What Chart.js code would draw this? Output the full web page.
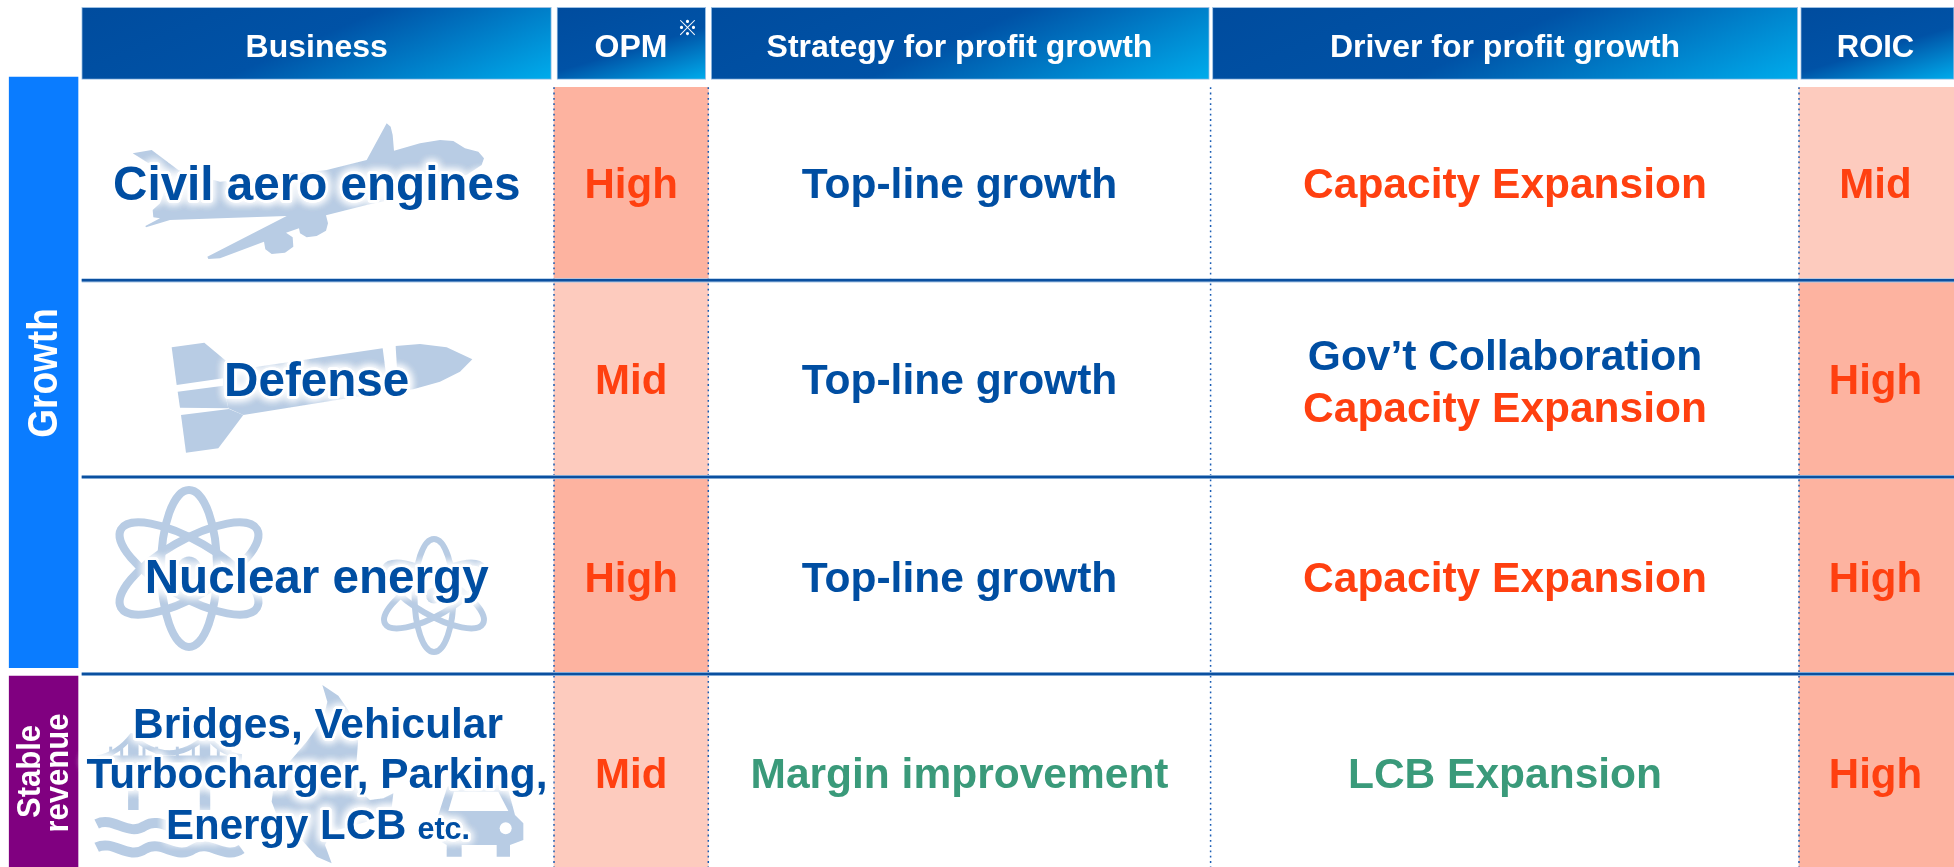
<!DOCTYPE html>
<html>
<head>
<meta charset="utf-8">
<title>Business portfolio</title>
<style>
  html, body { margin: 0; padding: 0; background: #fff; overflow: hidden; }
  canvas { display: block; }
</style>
<script src="https://cdn.jsdelivr.net/npm/chart.js@4"></script>
</head>
<body>
<canvas id="chart" width="1954" height="867"></canvas>
<script>
// table content
const columns    = ['Business', 'OPM', 'Strategy for profit growth', 'Driver for profit growth', 'ROIC'];
const businesses = [['Civil aero engines'], ['Defense'], ['Nuclear energy'], ['Bridges, Vehicular', 'Turbocharger, Parking,', 'Energy LCB']];
const opmLevels  = ['High', 'Mid', 'High', 'Mid'];
const roicLevels = ['Mid', 'High', 'High', 'High'];
const strategies = ['Top-line growth', 'Top-line growth', 'Top-line growth', 'Margin improvement'];
const drivers    = [['Capacity Expansion'], ['Gov’t Collaboration', 'Capacity Expansion'], ['Capacity Expansion'], ['LCB Expansion']];
const groups     = [['Growth'], ['Stable', 'revenue']];

// layout, in scale units (the scales are 1954 x 867)
const headerEdges = [[81.7, 551.4], [557, 705.7], [711.2, 1209.3], [1212.4, 1797.7], [1800.7, 1954]];
const headerTop = 7.3, headerBottom = 79.3;
const rowEdges = [87.3, 280.3, 477, 674, 867];
const cellEdges = { opm: [554, 708.3], roic: [1799, 1954] };
const dottedAt = [554, 708.3, 1210.6, 1799];
const groupEdges = [[77, 667.7], [676, 867]];
const groupX = [9.2, 78];

const NAVY = '#004EA2', RED = '#FF4010', GREEN = '#3A9A7A', ICON = '#B8CCE4';
const levelFill = { High: '#FDB3A0', Mid: '#FDCBBE' };

const mid = (e) => (e[0] + e[1]) / 2;
const rowRanges = rowEdges.slice(0, -1).map((t, i) => [t, rowEdges[i + 1]]);

// header gradient, iso lines run along (dx, -dy)
function headerGradient(context, i) {
  const chart = context.chart, sx = chart.scales.x, sy = chart.scales.y;
  const l = sx.getPixelForValue(headerEdges[i][0]), r = sx.getPixelForValue(headerEdges[i][1]);
  const t = sy.getPixelForValue(headerTop), b = sy.getPixelForValue(headerBottom);
  const W = r - l, H = b - t;
  const wide = W > 300;
  const dx = wide ? 165 : 120, dy = wide ? H : 36;
  const k = (W * dy + H * dx) / (dy * dy + dx * dx);
  const g = chart.ctx.createLinearGradient(l, t, l + k * dy, t + k * dx);
  g.addColorStop(0, '#004C9E');
  g.addColorStop(wide ? 0.48 : 0.55, '#0052A6');
  g.addColorStop(1, '#00ACEC');
  return g;
}

const datasets = [];

// header boxes
headerEdges.forEach((e, i) => {
  datasets.push({
    label: columns[i], order: 5, grouped: false,
    data: [{ x: mid(e), y: [headerTop, headerBottom] }],
    barThickness: e[1] - e[0],
    backgroundColor: (c) => c.chart.chartArea ? headerGradient(c, i) : NAVY,
    borderColor: '#9CC0E4', borderWidth: 1, borderSkipped: false
  });
});

// OPM and ROIC columns
datasets.push({
  label: 'OPM', order: 5, grouped: false,
  data: opmLevels.map((v, i) => ({ x: mid(cellEdges.opm), y: rowRanges[i] })),
  barThickness: cellEdges.opm[1] - cellEdges.opm[0],
  backgroundColor: opmLevels.map((v) => levelFill[v])
});
datasets.push({
  label: 'ROIC', order: 5, grouped: false,
  data: roicLevels.map((v, i) => ({ x: mid(cellEdges.roic), y: rowRanges[i] })),
  barThickness: cellEdges.roic[1] - cellEdges.roic[0],
  backgroundColor: roicLevels.map((v) => levelFill[v])
});

// side labels
datasets.push({
  label: 'Group', order: 5, grouped: false,
  data: groupEdges.map((e) => ({ x: mid(groupX), y: e })),
  barThickness: groupX[1] - groupX[0],
  backgroundColor: ['#0A7CFF', '#800080']
});

// dotted column separators
dottedAt.forEach((x) => {
  datasets.push({
    type: 'line', order: 2, pointRadius: 0, borderColor: '#1A5DB4', borderWidth: 1.5,
    borderDash: [1.8, 3.5], data: [{ x, y: rowEdges[0] }, { x, y: 867 }]
  });
});

// row rules
rowEdges.slice(1, -1).forEach((y) => {
  datasets.push({
    type: 'line', order: 1, pointRadius: 0, borderColor: '#0B50A0', borderWidth: 2.6,
    data: [{ x: 81.7, y }, { x: 1954, y }]
  });
  datasets.push({
    type: 'line', order: 1.5, pointRadius: 0, borderColor: '#A9C6E6', borderWidth: 4.2,
    data: [{ x: 81.7, y }, { x: 1954, y }]
  });
});

const planeOutline = [[800,40],[812,50],[818,75],[822,122],[900,100],[960,90],[1000,93],[1035,115],[1075,125],[1092,145],[1085,165],[1040,195],[900,250],[740,285],[618,316],[624,340],[618,362],[590,378],[560,382],[540,370],[537,355],[498,368],[518,382],[520,410],[495,428],[455,432],[436,418],[432,395],[300,445],[265,447],[262,440],[500,318],[300,325],[150,330],[78,352],[76,348],[120,325],[100,322],[98,300],[120,280],[150,200],[38,130],[95,120],[175,180],[300,215],[620,180],[740,150]];
const missileParts = [
  [[35,82],[133,68],[195,120],[190,175],[50,195]],
  [[53,215],[190,197],[205,265],[60,263]],
  [[63,285],[207,267],[250,285],[175,385],[78,398]],
  [[195,120],[225,150],[668,85],[685,215],[250,285],[205,265],[190,197],[190,175]],
  [[707,78],[780,72],[860,82],[937,118],[900,155],[840,185],[760,208],[715,215]]
];
const atoms = [
  { x: 189, y: 568.5, ry: 78.5, rx: 28, w: 8, dot: 12 },
  { x: 434, y: 595.5, ry: 56.5, rx: 19.5, w: 6, dot: 8 }
];
const flameOutline = [[697,30],[745,62],[785,120],[805,190],[800,255],[790,300],[800,340],[840,375],[880,370],[910,355],[905,400],[830,440],[725,470],[705,510],[725,565],[680,545],[640,500],[600,450],[560,420],[545,380],[550,340],[590,270],[650,200],[700,130],[712,80]];
const carOutline = [[1040,430],[1045,420],[1072,335],[1085,330],[1235,330],[1255,345],[1275,420],[1300,445],[1300,495],[1260,510],[1260,545],[1220,545],[1220,510],[1115,510],[1115,545],[1070,545],[1070,510],[1045,495]];
const carWindow = [[1092,350],[1225,350],[1255,408],[1075,408]];
const bridgeTowers = [130, 345];
const bridgeHangers = [62, 95, 162, 200, 262, 310, 385, 420];

function polygon(ctx, sx, sy, points, ox, oy) {
  ctx.beginPath();
  points.forEach((p, i) => {
    const x = sx.getPixelForValue(ox + p[0] / 3), y = sy.getPixelForValue(oy + p[1] / 3);
    if (i === 0) ctx.moveTo(x, y); else ctx.lineTo(x, y);
  });
  ctx.closePath();
  ctx.fill();
}

function drawPictures(chart) {
  const ctx = chart.ctx, sx = chart.scales.x, sy = chart.scales.y;
  ctx.save();
  ctx.fillStyle = ICON;
  ctx.strokeStyle = ICON;
  ctx.lineJoin = 'round';

  polygon(ctx, sx, sy, planeOutline, 120, 110);
  missileParts.forEach((p) => polygon(ctx, sx, sy, p, 160, 320));

  atoms.forEach((a) => {
    const cx = sx.getPixelForValue(a.x), cy = sy.getPixelForValue(a.y);
    ctx.lineWidth = a.w;
    [0, Math.PI / 3, -Math.PI / 3].forEach((rot) => {
      ctx.beginPath();
      ctx.ellipse(cx, cy, a.rx, a.ry, rot, 0, Math.PI * 2);
      ctx.stroke();
    });
    ctx.beginPath();
    ctx.arc(cx, cy, a.dot, 0, Math.PI * 2);
    ctx.fill();
  });

  // last row, crop origin (90, 675)
  const zx = (v) => sx.getPixelForValue(90 + v / 3), zy = (v) => sy.getPixelForValue(675 + v / 3);
  ctx.lineWidth = 10.5;
  bridgeTowers.forEach((v) => {
    ctx.beginPath(); ctx.moveTo(zx(v), zy(185)); ctx.lineTo(zx(v), zy(405)); ctx.stroke();
  });
  ctx.lineWidth = 5;
  ctx.beginPath();
  ctx.moveTo(zx(20), zy(250));
  ctx.quadraticCurveTo(zx(85), zy(235), zx(125), zy(182));
  ctx.quadraticCurveTo(zx(237), zy(285), zx(350), zy(182));
  ctx.quadraticCurveTo(zx(390), zy(235), zx(455), zy(245));
  ctx.stroke();
  ctx.lineWidth = 7;
  ctx.beginPath(); ctx.moveTo(zx(20), zy(252)); ctx.lineTo(zx(455), zy(252)); ctx.stroke();
  ctx.lineWidth = 3;
  bridgeHangers.forEach((v) => {
    ctx.beginPath(); ctx.moveTo(zx(v), zy(215)); ctx.lineTo(zx(v), zy(252)); ctx.stroke();
  });
  // waves
  ctx.lineWidth = 10;
  [452, 522].forEach((w) => {
    ctx.beginPath();
    ctx.moveTo(zx(20), zy(w - 5));
    for (let k = 0; k < 3; k++) {
      const a = 20 + k * 145;
      ctx.bezierCurveTo(zx(a + 50), zy(w - 30), zx(a + 95), zy(w + 35), zx(a + 145), zy(w));
    }
    ctx.stroke();
  });

  polygon(ctx, sx, sy, flameOutline, 90, 675);
  polygon(ctx, sx, sy, carOutline, 90, 675);
  ctx.fillStyle = '#fff';
  polygon(ctx, sx, sy, carWindow, 90, 675);
  ctx.beginPath(); ctx.arc(zx(1247), zy(460), 6, 0, Math.PI * 2); ctx.fill();
  ctx.beginPath(); ctx.arc(zx(1075), zy(460), 6, 0, Math.PI * 2); ctx.fill();
  ctx.restore();
}

// text placement
const headerBase = 56.7;
const rowBase = {
  business: [200, 396, 593, [738, 788.3, 838.5]],
  level:    [197.7, 394, 591.7, 788],
  strategy: [198, 394, 592, 788],
  driver:   [[198], [370, 422], [592], [788]]
};
const colCenter = { business: 316.7, opm: mid(cellEdges.opm), strategy: 959.5, driver: 1505, roic: 1875.5 };

function put(ctx, sx, sy, text, x, y, font, color, halo) {
  ctx.font = font;
  ctx.textAlign = 'center';
  ctx.textBaseline = 'alphabetic';
  const px = sx.getPixelForValue(x), py = sy.getPixelForValue(y);
  if (halo) {
    ctx.save();
    ctx.shadowColor = '#fff';
    ctx.shadowBlur = 10;
    ctx.fillStyle = '#fff';
    ctx.strokeStyle = '#fff';
    ctx.lineWidth = 5;
    ctx.lineJoin = 'round';
    for (let k = 0; k < 3; k++) ctx.strokeText(text, px, py);
    ctx.restore();
  }
  ctx.fillStyle = color;
  ctx.fillText(text, px, py);
}

function putTurned(ctx, sx, sy, text, x, y, size, stretch) {
  ctx.save();
  ctx.translate(sx.getPixelForValue(x), sy.getPixelForValue(y));
  ctx.rotate(-Math.PI / 2);
  ctx.scale(1, stretch);
  ctx.font = `bold ${size}px "Liberation Sans"`;
  ctx.textAlign = 'center';
  ctx.textBaseline = 'alphabetic';
  ctx.fillStyle = '#fff';
  ctx.fillText(text, 0, 0);
  ctx.restore();
}

const tablePlugin = {
  id: 'table',
  beforeDatasetsDraw: drawPictures,
  afterDatasetsDraw(chart) {
    const ctx = chart.ctx, sx = chart.scales.x, sy = chart.scales.y;
    const f = (s) => `bold ${s}px "Liberation Sans"`;
    ctx.save();

    const headerCenters = [316.7, 631, 959.5, 1505, 1875.5];
    columns.forEach((c, i) => {
      put(ctx, sx, sy, c, headerCenters[i], headerBase, f(i === 4 ? 31 : 32), '#fff');
    });
    put(ctx, sx, sy, '※', 687.5, 35, '400 21px "Noto Sans CJK JP"', '#fff');

    businesses.forEach((lines, r) => {
      if (r < 3) {
        put(ctx, sx, sy, lines[0], colCenter.business, rowBase.business[r], f(47.6), NAVY, true);
      } else {
        put(ctx, sx, sy, lines[0], 318, rowBase.business[3][0], f(42.4), NAVY, true);
        put(ctx, sx, sy, lines[1], 317, rowBase.business[3][1], f(42.4), NAVY, true);
        // last line has a smaller "etc."
        ctx.font = f(42);
        const w1 = ctx.measureText(lines[2]).width;
        put(ctx, sx, sy, lines[2], 166 + w1 / 2, rowBase.business[3][2], f(42), NAVY, true);
        put(ctx, sx, sy, 'etc.', 443.7, rowBase.business[3][2], f(30.5), NAVY, true);
      }
    });

    opmLevels.forEach((v, r) => put(ctx, sx, sy, v, colCenter.opm, rowBase.level[r], f(42), RED));
    roicLevels.forEach((v, r) => put(ctx, sx, sy, v, colCenter.roic, rowBase.level[r], f(42), RED));
    strategies.forEach((v, r) => put(ctx, sx, sy, v, colCenter.strategy, rowBase.strategy[r], f(42.5), r === 3 ? GREEN : NAVY));
    drivers.forEach((lines, r) => {
      lines.forEach((v, k) => {
        const color = r === 3 ? GREEN : (v.startsWith('Gov') ? NAVY : RED);
        put(ctx, sx, sy, v, colCenter.driver, rowBase.driver[r][k], f(42.5), color);
      });
    });

    putTurned(ctx, sx, sy, groups[0][0], 57.4, 373, 37, 1.13);
    putTurned(ctx, sx, sy, groups[1][0], 40.4, 771.5, 31, 1.1);
    putTurned(ctx, sx, sy, groups[1][1], 68, 773, 31, 1.1);
    ctx.restore();
  }
};

new Chart(document.getElementById('chart'), {
  type: 'bar',
  data: { datasets },
  options: {
    responsive: false,
    animation: false,
    layout: { padding: 0 },
    plugins: { legend: { display: false }, tooltip: { enabled: false }, title: { display: false } },
    scales: {
      x: { type: 'linear', min: 0, max: 1954, offset: false, display: false },
      y: { type: 'linear', min: 0, max: 867, reverse: true, display: false }
    }
  },
  plugins: [tablePlugin]
});
</script>
</body>
</html>
